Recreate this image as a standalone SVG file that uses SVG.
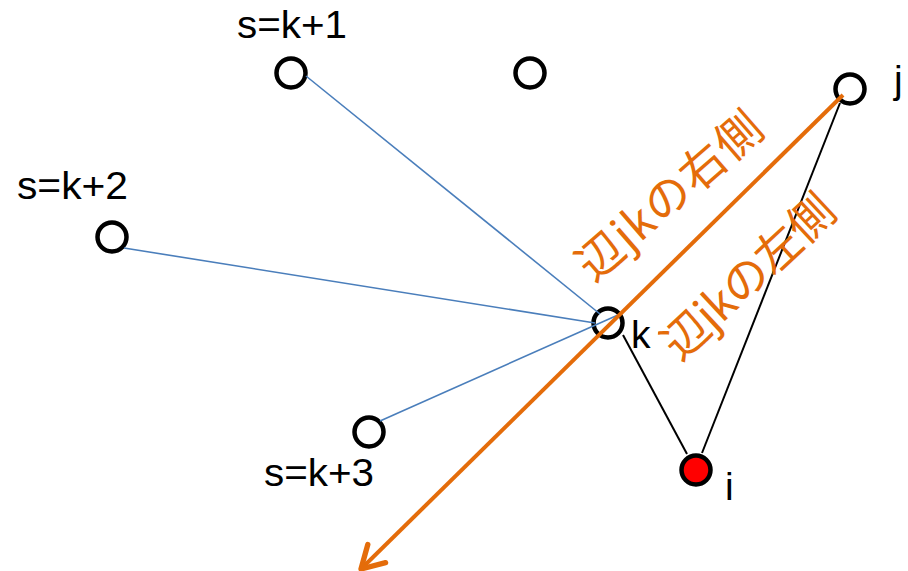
<svg xmlns="http://www.w3.org/2000/svg" width="908" height="571" viewBox="0 0 908 571">
<style>
.node{fill:#FFFFFF;stroke:#000000;stroke-width:4.5}
.red{fill:#FF0000}
.lbl{font-family:"Liberation Sans",Arial,sans-serif;font-size:39px;fill:#000000}
.blue{stroke:#4A7EBB;stroke-width:1.6;fill:none}
.blk{stroke:#000000;stroke-width:2;fill:none}
.org{stroke:#E46C0A;stroke-width:4;fill:none}
.jp{font-family:"Noto Sans CJK JP","Liberation Sans",sans-serif;font-size:46px;fill:#E46C0A}
</style>
<defs>
<marker id="arr" markerUnits="userSpaceOnUse" markerWidth="40" markerHeight="40" viewBox="-25 -15 30 30" refX="0" refY="0" orient="auto" overflow="visible">
<path d="M -16.5 -9.5 L 0 0 L -16.5 9.5" fill="none" stroke="#E46C0A" stroke-width="4" stroke-linecap="round" stroke-linejoin="round"/>
</marker>
</defs>
<rect width="908" height="571" fill="#FFFFFF"/>
<g id="node-s1"><circle class="node" cx="291" cy="73" r="14.5"/><text class="lbl" x="237" y="38" textLength="110" lengthAdjust="spacingAndGlyphs">s=k+1</text></g>
<g id="node-top"><circle class="node" cx="530" cy="73" r="14.5"/></g>
<g id="node-s2"><circle class="node" cx="112" cy="237" r="14.5"/><text class="lbl" x="17" y="199" textLength="111" lengthAdjust="spacingAndGlyphs">s=k+2</text></g>
<g id="node-s3"><circle class="node" cx="369" cy="432" r="14.5"/><text class="lbl" x="264" y="486" textLength="110" lengthAdjust="spacingAndGlyphs">s=k+3</text></g>
<g id="node-j"><circle class="node" cx="850" cy="89" r="14.5"/><text class="lbl" x="894" y="93">j</text></g>
<g id="node-k"><circle class="node" cx="608" cy="323" r="14.5"/><text class="lbl" x="631" y="348">k</text></g>
<g id="node-i"><circle class="node red" cx="696" cy="470" r="14.5"/><text class="lbl" x="725" y="500">i</text></g>
<g id="connectors">
<line class="blue" x1="306" y1="76" x2="600" y2="314"/>
<line class="blue" x1="124" y1="248" x2="595" y2="323"/>
<line class="blue" x1="380" y1="421" x2="618" y2="315"/>
<line class="blk" x1="623" y1="335" x2="687" y2="454"/>
<line class="blk" x1="840" y1="103" x2="702" y2="453"/>
<line class="org" x1="843" y1="95" x2="361" y2="569" marker-end="url(#arr)"/>
</g>
<g id="edge-labels">
<text class="jp" text-anchor="middle" dominant-baseline="central" textLength="229" lengthAdjust="spacing" transform="translate(667,193) rotate(-41)">辺jkの右側</text>
<text class="jp" text-anchor="middle" dominant-baseline="central" textLength="217" lengthAdjust="spacing" transform="translate(746,274) rotate(-43)">辺jkの左側</text>
<line x1="658" y1="333" x2="667" y2="333" stroke="#E46C0A" stroke-width="2.5"/>
</g>
</svg>
